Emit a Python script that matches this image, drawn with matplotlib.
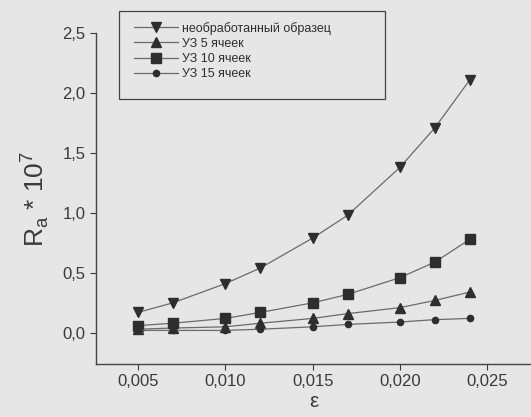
import matplotlib
matplotlib.use("Agg")
import matplotlib.pyplot as plt
from matplotlib.patches import Rectangle

# strain values
eps = [0.005, 0.007, 0.010, 0.012, 0.015, 0.017, 0.020, 0.022, 0.024]

# Ra * 10^7 for each sample
raw    = [0.17, 0.25, 0.41, 0.54, 0.79, 0.98, 1.38, 1.71, 2.11]
uz5    = [0.03, 0.04, 0.05, 0.08, 0.12, 0.16, 0.21, 0.27, 0.34]
uz10   = [0.06, 0.08, 0.12, 0.17, 0.25, 0.32, 0.46, 0.59, 0.78]
uz15   = [0.02, 0.02, 0.02, 0.03, 0.05, 0.07, 0.09, 0.11, 0.12]

labels = ["необработанный образец", "УЗ 5 ячеек", "УЗ 10 ячеек", "УЗ 15 ячеек"]

xticks = [0.005, 0.010, 0.015, 0.020, 0.025]
xtick_labels = ["0,005", "0,010", "0,015", "0,020", "0,025"]
yticks = [0.0, 0.5, 1.0, 1.5, 2.0, 2.5]
ytick_labels = ["0,0", "0,5", "1,0", "1,5", "2,0", "2,5"]

plt.rcParams['font.family'] = ['Liberation Sans', 'DejaVu Sans']
plt.rcParams['mathtext.fontset'] = 'custom'
plt.rcParams['mathtext.rm'] = 'Liberation Sans'

bg = "#e6e6e6"
fig = plt.figure(figsize=(5.31, 4.17), dpi=100, facecolor=bg)
W, H = 531, 417
ax = fig.add_axes([96/W, 1-364/H, (W-96)/W, (364-33)/H])
ax.set_facecolor(bg)

line_c = "#6a6a6a"
mark_c = "#2e2e2e"
series = [(raw, "v", 7.5), (uz5, "^", 7.5), (uz10, "s", 6.5), (uz15, "o", 4.5)]
handles = []
for (vals, m, ms), lab in zip(series, labels):
	h, = ax.plot(eps, vals, color=line_c, lw=0.9, marker=m, ms=ms,
		markerfacecolor=mark_c, markeredgecolor=mark_c, label=lab)
	handles.append(h)

ax.set_xlim(0.0026, 0.0275)
ax.set_ylim(-0.26, 2.5)
ax.set_xticks(xticks)
ax.set_xticklabels(xtick_labels)
ax.set_yticks(yticks)
ax.set_yticklabels(ytick_labels)
ax.tick_params(labelsize=12, colors="#3a3a3a", length=4, width=0.8)

for s in ["top", "right"]:
	ax.spines[s].set_visible(False)
for s in ["left", "bottom"]:
	ax.spines[s].set_color("#444444")
	ax.spines[s].set_linewidth(1.0)

ax.set_ylabel(r"R$_\mathrm{a}$ * 10$^\mathrm{7}$", fontsize=19, color="#3a3a3a", labelpad=8)
ax.set_xlabel("ε", fontsize=15, color="#3a3a3a", labelpad=2)

# legend box drawn by hand to match the frame size
fig.patches.append(Rectangle((119/W, 1-99/H), (385-119)/W, (99-11)/H,
	transform=fig.transFigure, fill=False, edgecolor="#444444", lw=0.9))
fig.legend(handles=handles, loc="upper left", bbox_to_anchor=(125/W, 1-13/H),
	frameon=False, fontsize=9, handlelength=3.5, handletextpad=0.4,
	labelspacing=0.25, borderpad=0.2, labelcolor="#2e2e2e")

fig.savefig("out.png", dpi=100, facecolor=bg)
